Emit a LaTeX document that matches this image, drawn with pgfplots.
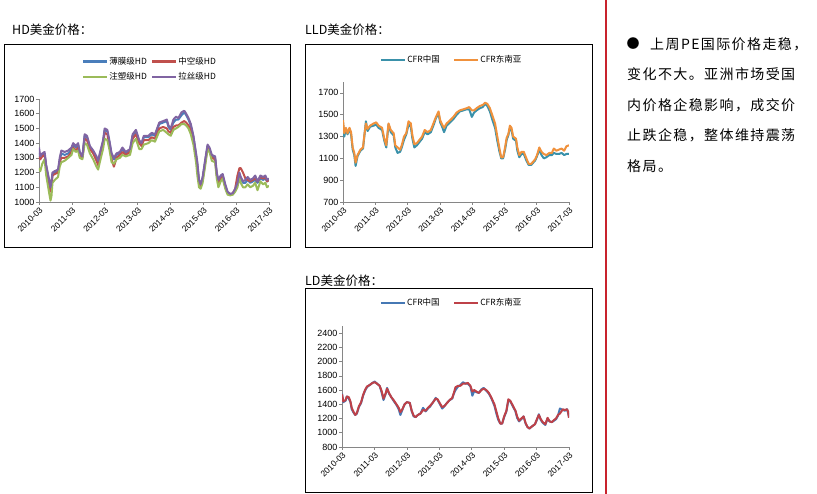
\documentclass[border=0pt]{standalone}
\usepackage{pgfplots}
\usepackage{pgfplotstable}
\pgfplotsset{compat=1.18}
\usepackage{fontspec}
\setmainfont{Liberation Sans}
\newfontfamily\cjk{Noto Sans CJK SC}
\newfontfamily\cjkwide[LetterSpace=10]{Noto Sans CJK SC}

\definecolor{axgray}{RGB}{134,134,134}
\definecolor{hdblue}{RGB}{74,126,187}
\definecolor{hdred}{RGB}{192,80,77}
\definecolor{hdgreen}{RGB}{155,187,89}
\definecolor{hdpurple}{RGB}{128,100,162}
\definecolor{lldteal}{RGB}{58,145,170}
\definecolor{lldorange}{RGB}{240,145,60}
\definecolor{ldblue}{RGB}{70,120,180}
\definecolor{ldred}{RGB}{190,65,72}
\definecolor{sepred}{RGB}{200,35,45}

% HD: t = years since 2010-03
\pgfplotstableread{
t    bm   zk   zs   ls
0.00 1330 1310 1230 1370
0.04 1300 1290 1210 1310
0.10 1320 1310 1260 1330
0.17 1330 1320 1290 1340
0.22 1240 1230 1180 1250
0.31 1130 1120 1060 1150
0.35 1080 1070 1010 1100
0.38 1120 1110 1040 1140
0.41 1190 1180 1130 1200
0.48 1200 1190 1150 1210
0.58 1210 1200 1170 1220
0.63 1280 1270 1240 1300
0.68 1330 1300 1270 1350
0.78 1320 1300 1280 1340
0.89 1330 1310 1300 1350
0.99 1360 1340 1320 1370
1.04 1390 1370 1360 1400
1.12 1370 1350 1340 1380
1.19 1390 1370 1350 1400
1.24 1330 1320 1300 1340
1.32 1300 1300 1290 1310
1.39 1450 1430 1400 1460
1.46 1440 1420 1390 1450
1.55 1370 1360 1330 1380
1.65 1340 1330 1290 1350
1.75 1290 1280 1240 1310
1.80 1270 1250 1220 1280
1.85 1320 1300 1270 1330
1.95 1410 1390 1360 1420
2.00 1490 1470 1430 1500
2.08 1480 1460 1420 1490
2.14 1410 1390 1360 1420
2.21 1320 1290 1270 1330
2.28 1290 1240 1260 1300
2.36 1320 1300 1290 1330
2.46 1330 1320 1300 1340
2.54 1360 1340 1320 1370
2.64 1330 1320 1310 1340
2.77 1350 1340 1320 1360
2.85 1450 1430 1400 1460
2.95 1480 1460 1430 1490
3.05 1410 1400 1360 1420
3.12 1390 1380 1360 1400
3.19 1440 1420 1390 1450
3.33 1440 1420 1400 1450
3.43 1460 1440 1420 1470
3.53 1450 1430 1410 1460
3.66 1530 1500 1480 1540
3.78 1540 1510 1490 1550
3.89 1550 1500 1470 1560
3.94 1510 1480 1460 1520
4.01 1490 1470 1450 1500
4.09 1540 1510 1490 1560
4.17 1560 1520 1500 1580
4.24 1560 1520 1510 1570
4.34 1590 1540 1530 1610
4.42 1610 1550 1530 1620
4.48 1590 1540 1520 1600
4.55 1560 1520 1500 1570
4.62 1520 1490 1460 1530
4.70 1440 1420 1390 1450
4.78 1320 1310 1270 1330
4.82 1250 1240 1180 1270
4.87 1140 1130 1100 1150
4.92 1110 1110 1090 1120
4.98 1160 1150 1130 1170
5.06 1280 1270 1250 1290
5.13 1380 1370 1360 1390
5.19 1360 1350 1340 1370
5.26 1310 1300 1280 1320
5.36 1300 1290 1270 1310
5.41 1190 1180 1160 1200
5.46 1140 1130 1100 1150
5.53 1170 1160 1140 1180
5.59 1180 1170 1160 1190
5.67 1110 1100 1090 1120
5.74 1060 1060 1050 1070
5.82 1050 1050 1045 1055
5.90 1055 1060 1050 1060
5.97 1080 1090 1070 1090
6.04 1120 1180 1100 1130
6.10 1190 1230 1170 1200
6.14 1160 1230 1130 1170
6.21 1130 1200 1100 1140
6.28 1130 1160 1100 1150
6.35 1150 1150 1120 1170
6.43 1130 1140 1100 1150
6.51 1140 1150 1110 1160
6.58 1150 1160 1130 1180
6.65 1130 1140 1080 1140
6.74 1160 1170 1140 1180
6.82 1150 1160 1120 1170
6.89 1160 1170 1130 1180
6.94 1140 1140 1100 1150
7.00 1150 1150 1110 1160
}\hdtable

% LLD
\pgfplotstableread{
t    cn   sea
0.00 1430 1450
0.04 1300 1330
0.09 1370 1380
0.14 1320 1330
0.20 1370 1380
0.25 1320 1340
0.30 1180 1200
0.35 1130 1150
0.39 1030 1060
0.45 1120 1130
0.54 1170 1180
0.62 1190 1200
0.66 1300 1310
0.71 1440 1420
0.76 1350 1370
0.84 1390 1400
0.95 1400 1420
1.03 1410 1430
1.10 1380 1400
1.21 1360 1380
1.28 1260 1280
1.34 1200 1220
1.41 1410 1420
1.48 1340 1360
1.57 1310 1330
1.62 1200 1220
1.69 1150 1200
1.77 1160 1180
1.82 1200 1220
1.89 1270 1300
1.96 1320 1330
2.03 1410 1440
2.10 1390 1420
2.15 1280 1310
2.21 1200 1230
2.29 1220 1240
2.37 1250 1270
2.45 1280 1300
2.53 1340 1360
2.62 1320 1340
2.72 1340 1360
2.80 1400 1420
2.88 1470 1480
2.96 1510 1530
3.01 1430 1450
3.07 1390 1410
3.13 1340 1380
3.21 1400 1420
3.32 1430 1450
3.42 1460 1480
3.52 1500 1520
3.62 1530 1540
3.73 1540 1550
3.83 1550 1560
3.91 1550 1570
3.99 1480 1540
4.06 1520 1540
4.14 1540 1560
4.24 1560 1580
4.33 1570 1590
4.40 1600 1610
4.47 1580 1600
4.55 1530 1560
4.63 1450 1490
4.71 1380 1420
4.78 1260 1300
4.84 1170 1200
4.90 1100 1110
4.96 1100 1110
5.02 1180 1200
5.07 1270 1290
5.12 1310 1320
5.17 1380 1400
5.22 1360 1380
5.27 1280 1300
5.36 1260 1280
5.40 1170 1200
5.46 1110 1130
5.53 1140 1160
5.60 1140 1160
5.68 1080 1100
5.75 1040 1050
5.83 1040 1050
5.89 1060 1070
5.95 1080 1090
6.01 1120 1130
6.08 1180 1200
6.15 1130 1160
6.22 1100 1140
6.30 1110 1130
6.39 1130 1150
6.47 1130 1150
6.53 1150 1190
6.61 1140 1170
6.69 1140 1180
6.77 1150 1190
6.85 1130 1170
6.92 1140 1210
7.00 1140 1220
}\lldtable

% LD
\pgfplotstableread{
t    cn   sea
0.00 1550 1540
0.04 1430 1440
0.11 1450 1460
0.15 1510 1510
0.21 1480 1500
0.26 1430 1440
0.30 1330 1350
0.36 1280 1290
0.41 1250 1250
0.46 1270 1280
0.52 1360 1370
0.59 1420 1430
0.65 1520 1530
0.71 1590 1600
0.77 1640 1650
0.85 1670 1670
0.94 1700 1700
1.01 1720 1710
1.08 1690 1690
1.16 1660 1660
1.22 1570 1590
1.28 1460 1480
1.35 1550 1560
1.39 1630 1620
1.45 1550 1560
1.52 1500 1500
1.59 1450 1460
1.68 1390 1400
1.75 1330 1350
1.80 1250 1290
1.86 1320 1330
1.93 1400 1400
2.00 1430 1430
2.09 1420 1420
2.15 1300 1310
2.21 1230 1240
2.27 1220 1220
2.34 1250 1250
2.42 1270 1270
2.50 1350 1320
2.58 1300 1310
2.65 1340 1350
2.72 1370 1380
2.81 1430 1430
2.89 1490 1480
2.95 1460 1470
3.01 1410 1420
3.09 1340 1360
3.17 1380 1380
3.24 1420 1420
3.32 1460 1460
3.40 1480 1490
3.45 1550 1560
3.50 1600 1640
3.58 1650 1660
3.65 1670 1660
3.73 1710 1690
3.81 1690 1690
3.88 1690 1700
3.96 1650 1660
4.02 1520 1580
4.08 1590 1600
4.14 1570 1580
4.22 1560 1560
4.30 1610 1600
4.37 1630 1620
4.45 1590 1600
4.53 1550 1560
4.61 1480 1490
4.70 1380 1400
4.76 1270 1300
4.82 1180 1200
4.88 1130 1130
4.94 1130 1130
5.00 1220 1230
5.07 1300 1310
5.13 1460 1470
5.19 1440 1450
5.27 1370 1380
5.35 1300 1310
5.40 1210 1230
5.46 1160 1170
5.53 1190 1200
5.60 1230 1230
5.66 1130 1140
5.72 1080 1080
5.78 1060 1060
5.86 1090 1090
5.95 1120 1120
6.01 1180 1190
6.07 1260 1250
6.13 1180 1190
6.19 1140 1150
6.27 1110 1120
6.34 1200 1210
6.40 1160 1160
6.47 1150 1150
6.54 1170 1180
6.60 1190 1200
6.66 1240 1250
6.72 1340 1270
6.81 1320 1330
6.87 1310 1320
6.94 1330 1330
6.97 1280 1300
7.00 1220 1210
}\ldtable

\pgfplotsset{
  pechart/.style={
    scale only axis,
    axis lines=left,
    axis line style={-, draw=axgray, line width=0.6pt},
    tick style={draw=axgray, line width=0.6pt},
    tick align=outside,
    major tick length=3pt,
    xmin=0, xmax=7,
    xtick={0,1,2,3,4,5,6,7},
    xticklabels={2010-03,2011-03,2012-03,2013-03,2014-03,2015-03,2016-03,2017-03},
    x tick label style={rotate=45, anchor=north east, inner sep=1pt,
      font=\fontsize{8.5}{9}\selectfont},
    y tick label style={inner sep=1.5pt, font=\fontsize{9}{10}\selectfont},
    /pgf/number format/assume math mode=true,
    /pgf/number format/1000 sep={},
    legend style={draw=none, fill=none, inner sep=0pt, row sep=5pt,
      font=\cjk\fontsize{8.5}{10}\selectfont,
      nodes={inner sep=1pt},
      /tikz/every even column/.append style={column sep=3pt}},
    legend image code/.code={\draw[#1, line width=2.6pt] (0pt,0pt) -- (24pt,0pt);},
    every axis plot/.append style={line width=2pt, line join=round},
  }
}

\begin{document}
\begin{tikzpicture}[x=1pt, y=1pt]
\useasboundingbox (0,0) rectangle (817,494);

% frames and titles
\draw[line width=0.8pt] (4,247) rectangle (290,450);
\draw[line width=0.8pt] (305,247) rectangle (592,450);
\draw[line width=0.8pt] (305,2) rectangle (592,206);
\node[anchor=west, inner sep=0pt] at (12,464) {\cjk\fontsize{12.5}{14}\selectfont HD美金价格：};
\node[anchor=west, inner sep=0pt] at (305,464) {\cjk\fontsize{12.5}{14}\selectfont LLD美金价格：};
\node[anchor=west, inner sep=0pt] at (305,213) {\cjk\fontsize{12.5}{14}\selectfont LD美金价格：};

% HD
\begin{axis}[pechart, at={(39pt,292pt)}, anchor=south west,
  width=230pt, height=103pt,
  ymin=1000, ymax=1700, ytick={1000,1100,...,1700},
  legend columns=2,
  legend style={at={(axis description cs:0.48,1.29)}, anchor=center}]
\addplot[hdblue] table[x=t, y=bm] {\hdtable};
\addplot[hdred] table[x=t, y=zk] {\hdtable};
\addplot[hdgreen] table[x=t, y=zs] {\hdtable};
\addplot[hdpurple] table[x=t, y=ls] {\hdtable};
\legend{薄膜级HD, 中空级HD, 注塑级HD, 拉丝级HD}
\end{axis}

% LLD
\begin{axis}[pechart, at={(343pt,292pt)}, anchor=south west,
  width=226pt, height=120pt,
  ymin=700, ymax=1800, ytick={700,900,...,1700},
  legend columns=2,
  legend style={at={(axis description cs:0.478,1.183)}, anchor=center,
    /tikz/every even column/.append style={column sep=12pt}}]
\addplot[lldteal] table[x=t, y=cn] {\lldtable};
\addplot[lldorange] table[x=t, y=sea] {\lldtable};
\legend{CFR中国, CFR东南亚}
\end{axis}

% LD
\begin{axis}[pechart, at={(342pt,47pt)}, anchor=south west,
  width=227pt, height=121pt,
  ymin=800, ymax=2500, ytick={800,1000,...,2400},
  legend columns=2,
  legend style={at={(axis description cs:0.48,1.19)}, anchor=center,
    /tikz/every even column/.append style={column sep=12pt}}]
\addplot[ldblue] table[x=t, y=cn] {\ldtable};
\addplot[ldred] table[x=t, y=sea] {\ldtable};
\legend{CFR中国, CFR东南亚}
\end{axis}

% separator and commentary
\draw[sepred, line width=2pt] (606,0) -- (606,494);
\node[anchor=center, inner sep=0pt] at (633,450) {\cjk\fontsize{13}{14}\selectfont ●};
\begin{scope}[every node/.style={anchor=west, inner sep=0pt}]
\node at (650,450) {\cjkwide\fontsize{14}{16}\selectfont 上周PE国际价格走稳，};
\node at (627,419.5) {\cjkwide\fontsize{14}{16}\selectfont 变化不大。亚洲市场受国};
\node at (627,389) {\cjkwide\fontsize{14}{16}\selectfont 内价格企稳影响，成交价};
\node at (627,358.5) {\cjkwide\fontsize{14}{16}\selectfont 止跌企稳，整体维持震荡};
\node at (627,328) {\cjkwide\fontsize{14}{16}\selectfont 格局。};
\end{scope}
\end{tikzpicture}
\end{document}
